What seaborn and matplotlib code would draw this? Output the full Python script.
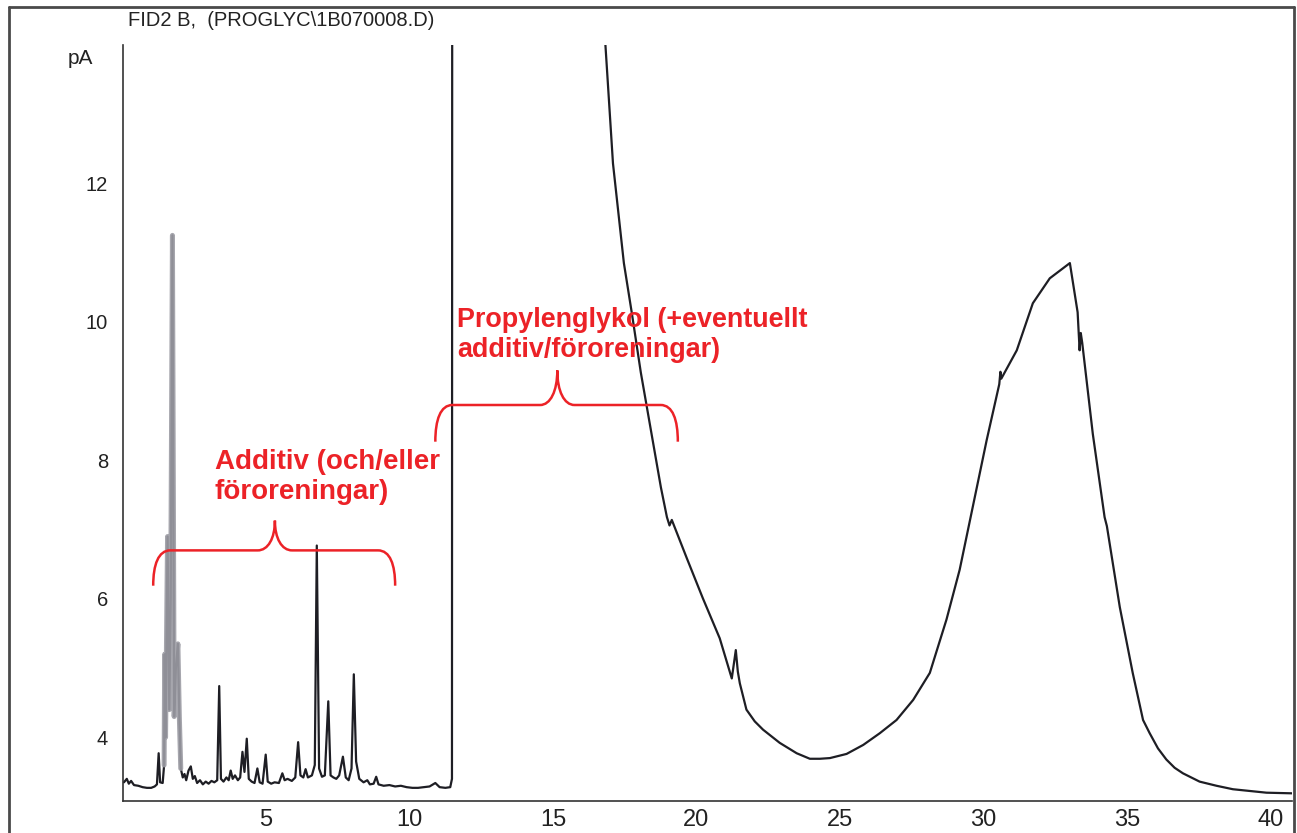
import matplotlib
matplotlib.use("Agg")
import matplotlib.pyplot as plt
from matplotlib.lines import Line2D
from matplotlib.path import Path
from matplotlib.patches import PathPatch
from matplotlib.ticker import MultipleLocator
import numpy as np
import pandas as pd
import seaborn as sns

# retention time (min) and FID signal (pA)
rt_min = [
    0.05, 0.15, 0.22, 0.30, 0.40, 0.55, 0.70, 0.85, 1.00, 1.12, 1.20, 1.26,
    1.31, 1.40, 1.45, 1.47, 1.50, 1.57, 1.63, 1.68, 1.74, 1.80, 1.86, 1.93,
    1.98, 2.03, 2.10, 2.16, 2.22, 2.30, 2.38, 2.45, 2.52, 2.60, 2.70, 2.80,
    2.90, 3.00, 3.10, 3.20, 3.30, 3.37, 3.43, 3.52, 3.62, 3.70, 3.77, 3.84,
    3.92, 4.02, 4.10, 4.18, 4.25, 4.33, 4.40, 4.50, 4.60, 4.70, 4.78, 4.88,
    4.99, 5.06, 5.18, 5.30, 5.45, 5.57, 5.65, 5.75, 5.90, 6.02, 6.12, 6.20,
    6.30, 6.38, 6.46, 6.60, 6.70, 6.77, 6.85, 6.95, 7.05, 7.17, 7.25, 7.35,
    7.45, 7.55, 7.68, 7.78, 7.88, 7.98, 8.06, 8.14, 8.25, 8.40, 8.53, 8.62,
    8.75, 8.84, 8.92, 9.10, 9.30, 9.50, 9.70, 9.90, 10.10, 10.30, 10.50,
    10.70, 10.90, 11.05, 11.25, 11.42, 11.48, 11.52,
    16.75, 17.09, 17.47, 17.75, 18.06, 18.41, 18.76, 18.97, 19.06, 19.14,
    19.66, 20.22, 20.81, 21.23, 21.37, 21.44, 21.51, 21.74, 22.03, 22.32,
    22.90, 23.49, 23.95, 24.30, 24.65, 25.23, 25.81, 26.39, 26.97, 27.55,
    28.13, 28.71, 29.17, 29.77, 30.11, 30.55, 30.59, 30.62, 31.16, 31.72,
    32.31, 33.01, 33.28, 33.35, 33.39, 33.44, 33.81, 34.22, 34.30, 34.75,
    35.20, 35.56, 35.79, 36.08, 36.37, 36.66, 36.95, 37.53, 38.12, 38.69,
    39.86, 40.84,
]
signal_pa = [
    3.35, 3.40, 3.33, 3.37, 3.31, 3.30, 3.28, 3.27, 3.27, 3.29, 3.32, 3.77,
    3.35, 3.34, 3.60, 5.20, 4.00, 6.90, 4.40, 6.00, 11.25, 4.30, 5.00, 5.35,
    4.30, 3.55, 3.42, 3.47, 3.38, 3.52, 3.58, 3.40, 3.44, 3.34, 3.38, 3.32,
    3.36, 3.33, 3.37, 3.35, 3.38, 4.74, 3.40, 3.36, 3.42, 3.38, 3.52, 3.40,
    3.45, 3.38, 3.42, 3.79, 3.50, 3.98, 3.40, 3.36, 3.34, 3.55, 3.35, 3.33,
    3.75, 3.36, 3.33, 3.35, 3.34, 3.48, 3.38, 3.40, 3.37, 3.42, 3.93, 3.45,
    3.42, 3.54, 3.42, 3.45, 3.60, 6.77, 3.55, 3.43, 3.45, 4.52, 3.45, 3.42,
    3.40, 3.45, 3.72, 3.42, 3.38, 3.55, 4.91, 3.65, 3.40, 3.35, 3.38, 3.32,
    3.33, 3.43, 3.32, 3.30, 3.31, 3.29, 3.30, 3.28, 3.27, 3.27, 3.28,
    3.29, 3.34, 3.28, 3.27, 3.28, 3.40, 60.0,
    14.50, 12.29, 10.85, 10.12, 9.27, 8.44, 7.61, 7.18, 7.06, 7.14,
    6.59, 6.01, 5.43, 4.85, 5.26, 4.95, 4.78, 4.40, 4.23, 4.11,
    3.92, 3.77, 3.69, 3.69, 3.70, 3.76, 3.89, 4.06, 4.25, 4.54,
    4.93, 5.70, 6.42, 7.61, 8.29, 9.10, 9.28, 9.18, 9.59, 10.27,
    10.63, 10.85, 10.14, 9.59, 9.84, 9.70, 8.38, 7.18, 7.05, 5.88,
    4.93, 4.25, 4.06, 3.84, 3.68, 3.56, 3.48, 3.36, 3.30, 3.25,
    3.20, 3.19,
]

x_major = [5, 10, 15, 20, 25, 30, 35, 40]
y_major = [4, 6, 8, 10, 12]

title = "FID2 B,  (PROGLYC\\1B070008.D)"
label_additiv = "Additiv (och/eller\nföroreningar)"
label_propylen = "Propylenglykol (+eventuellt\nadditiv/föroreningar)"

red = "#ec2227"
ink = "#1e1e24"

sns.set_style("white")
plt.rcParams["font.family"] = ["Liberation Sans", "DejaVu Sans"]

df = pd.DataFrame({"rt": rt_min, "pA": signal_pa})

fig = plt.figure(figsize=(12.97, 8.33), dpi=100)
ax = fig.add_axes([122.5 / 1297, 32 / 833, (1292 - 122.5) / 1297, (801 - 45) / 833])

sns.lineplot(data=df, x="rt", y="pA", sort=False, estimator=None,
             color=ink, linewidth=1.6, ax=ax)
# unresolved early cluster prints greyish on the scan
cluster = df[(df.rt > 1.43) & (df.rt < 2.04)]
sns.lineplot(data=cluster, x="rt", y="pA", sort=False, estimator=None,
             color="#9c9ca4", linewidth=3.6, alpha=0.9, ax=ax)

ax.set_xlim(0, 40.75)
ax.set_ylim(3.08, 14.0)
ax.set_xlabel("")
ax.set_ylabel("")

for side in ["top", "right"]:
    ax.spines[side].set_visible(False)
for side in ["left", "bottom"]:
    ax.spines[side].set_color("#333333")
    ax.spines[side].set_linewidth(1.2)

ax.set_xticks(x_major)
ax.set_xticklabels([str(v) for v in x_major])
ax.xaxis.set_minor_locator(MultipleLocator(1))
ax.set_yticks(y_major)
ax.set_yticklabels([str(v) for v in y_major])
ax.yaxis.set_minor_locator(MultipleLocator(0.5))

ax.tick_params(axis="x", which="major", direction="out", length=5, width=1.1,
               pad=1, labelsize=17, color="#333333", labelcolor="#222222")
ax.tick_params(axis="x", which="minor", direction="out", length=4, width=1.0,
               color="#333333")
ax.tick_params(axis="y", which="major", direction="out", length=7.5, width=1.1,
               pad=3, labelsize=14.5, color="#333333", labelcolor="#222222")
ax.tick_params(axis="y", which="minor", direction="out", length=4, width=1.0,
               color="#333333")


def curly_brace(ax, x0, x1, xm, y, y_end, y_tip, rx, color):
    verts = [
        (x0, y_end),
        (x0, y_end + 0.6 * (y - y_end)), (x0 + 0.3 * rx, y), (x0 + rx, y),
        (xm - rx, y),
        (xm - 0.4 * rx, y), (xm, y + 0.4 * (y_tip - y)), (xm, y_tip),
        (xm, y + 0.4 * (y_tip - y)), (xm + 0.4 * rx, y), (xm + rx, y),
        (x1 - rx, y),
        (x1 - 0.3 * rx, y), (x1, y_end + 0.6 * (y - y_end)), (x1, y_end),
    ]
    codes = ([Path.MOVETO] + [Path.CURVE4] * 3 + [Path.LINETO]
             + [Path.CURVE4] * 6 + [Path.LINETO] + [Path.CURVE4] * 3)
    ax.add_patch(PathPatch(Path(verts, codes), facecolor="none",
                           edgecolor=color, linewidth=1.8, zorder=4))


curly_brace(ax, 1.07, 9.50, 5.31, 6.70, 6.19, 7.13, 0.6, red)
curly_brace(ax, 10.90, 19.35, 15.15, 8.80, 8.27, 9.30, 0.6, red)

ax.text(3.22, 8.16, label_additiv, color=red, fontsize=20, fontweight="bold",
        va="top", ha="left", linespacing=1.2, zorder=5)
ax.text(11.65, 10.22, label_propylen, color=red, fontsize=19.4,
        fontweight="bold", va="top", ha="left", linespacing=1.2, zorder=5)

fig.text(128 / 1297, 1 - 20 / 833, title, fontsize=14.5, va="center",
         ha="left", color="#222222")
fig.text(80 / 1297, 1 - 58 / 833, "pA", fontsize=15, va="center",
         ha="center", color="#222222")

# border of the scanned printout
frame_kw = dict(color="#4a4a4a", linewidth=2.0, transform=fig.transFigure)
fig.add_artist(Line2D([9 / 1297, 9 / 1297], [0, 1 - 7 / 833], **frame_kw))
fig.add_artist(Line2D([9 / 1297, 1294 / 1297], [1 - 7 / 833, 1 - 7 / 833], **frame_kw))
fig.add_artist(Line2D([1294 / 1297, 1294 / 1297], [0, 1 - 7 / 833], **frame_kw))

fig.savefig("out.png", dpi=100)
